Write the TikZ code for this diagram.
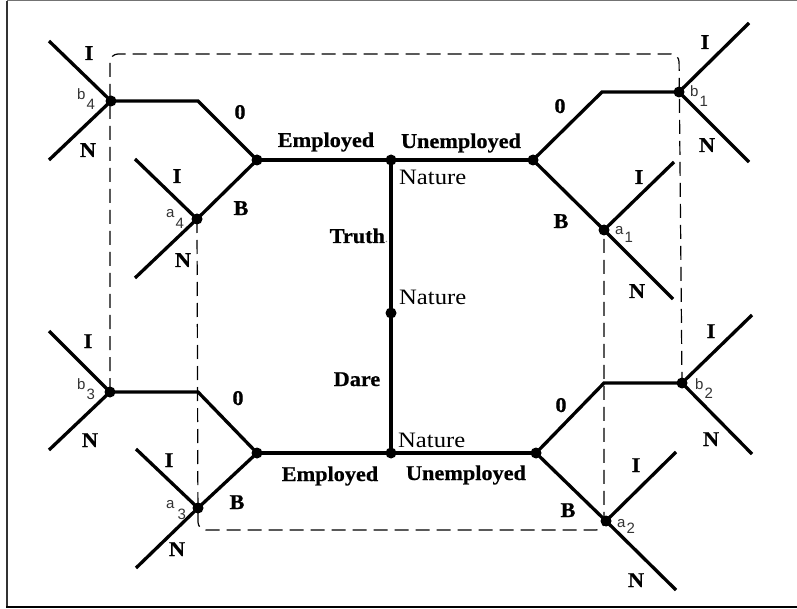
\documentclass[tikz,border=0pt]{standalone}
\usepackage{fontspec}
\setmainfont{Liberation Serif}
\newfontfamily\labfont[FakeStretch=1.06,FakeBold=0.6]{Liberation Serif Bold}
\newfontfamily\natfont[FakeStretch=1.12]{Liberation Serif}
\newfontfamily\subfont{Liberation Sans}
\newcommand{\idx}[3][10pt]{#2\kern1pt\raisebox{-#1}{#3}}
\begin{document}
\begin{tikzpicture}[x=1pt,y=-1pt,
  branch/.style={line width=3.3pt},
  guide/.style={line width=1.2pt, dash pattern=on 14pt off 7pt, rounded corners=8pt},
  frameline/.style={line width=1.6pt},
  dot/.style={circle,fill,inner sep=0pt,minimum size=11pt},
  lab/.style={font=\fontsize{21}{21}\labfont, inner sep=0pt, anchor=base},
  nat/.style={font=\fontsize{22}{22}\natfont, inner sep=0pt, anchor=base west},
  sub/.style={font=\fontsize{15}{15}\subfont, text=black!80, inner sep=0pt, anchor=base west}
]
\useasboundingbox (0,0) rectangle (797,609);

% open frame: left and bottom rules, light top rule
\draw[black!80, frameline] (7,1) -- (7,607);
\draw[black, line width=2.4pt] (6,607) -- (797,607);
\draw[black!55, line width=1pt] (7,1) -- (797,1);

% decision nodes on the central trunk
\node[dot] (nt) at (391,160) {};
\node[dot] (nm) at (391,313) {};
\node[dot] (nb) at (391,453) {};

% employment nodes
\node[dot] (el) at (257,160) {};
\node[dot] (ur) at (533,160) {};
\node[dot] (ebl) at (257,453) {};
\node[dot] (ubr) at (536,453) {};

% information sets
\node[dot] (b4) at (111,101) {};
\node[dot] (a4) at (197,219) {};
\node[dot] (b1) at (679,92) {};
\node[dot] (a1) at (604,230) {};
\node[dot] (b3) at (110,392) {};
\node[dot] (a3) at (198,508) {};
\node[dot] (b2) at (682,383) {};
\node[dot] (a2) at (606,521) {};

% bends and free ends
\coordinate (k4) at (198,101);
\coordinate (k1) at (602,92);
\coordinate (k3) at (198,392);
\coordinate (k2) at (604,383);
\coordinate (b4i) at (49,41);   \coordinate (b4n) at (49,160);
\coordinate (a4i) at (135,159); \coordinate (a4n) at (135,278);
\coordinate (b1i) at (749,23);  \coordinate (b1n) at (749,162);
\coordinate (a1i) at (674,162); \coordinate (a1n) at (673,299);
\coordinate (b3i) at (49,331);  \coordinate (b3n) at (49,450);
\coordinate (a3i) at (136,449); \coordinate (a3n) at (136,568);
\coordinate (b2i) at (752,315); \coordinate (b2n) at (752,454);
\coordinate (a2i) at (676,452); \coordinate (a2n) at (676,590);

% dashed information sets
\draw[guide] (b3.center) -- (110,54) -- (679,54) -- (b2.center);
\draw[guide] (a4.center) -- (198,530) -- (604,530) -- (a1.center);

% tree branches
\draw[branch] (nt.center) -- (nb.center);
\draw[branch] (el.center) -- (ur.center);
\draw[branch] (ebl.center) -- (ubr.center);
\draw[branch] (el.center) -- (k4) -- (b4.center);
\draw[branch] (el.center) -- (a4.center);
\draw[branch] (ur.center) -- (k1) -- (b1.center);
\draw[branch] (ur.center) -- (a1.center);
\draw[branch] (ebl.center) -- (k3) -- (b3.center);
\draw[branch] (ebl.center) -- (a3.center);
\draw[branch] (ubr.center) -- (k2) -- (b2.center);
\draw[branch] (ubr.center) -- (a2.center);
\draw[branch] (b4i) -- (b4.center) -- (b4n);
\draw[branch] (a4i) -- (a4.center) -- (a4n);
\draw[branch] (b1i) -- (b1.center) -- (b1n);
\draw[branch] (a1i) -- (a1.center) -- (a1n);
\draw[branch] (b3i) -- (b3.center) -- (b3n);
\draw[branch] (a3i) -- (a3.center) -- (a3n);
\draw[branch] (b2i) -- (b2.center) -- (b2n);
\draw[branch] (a2i) -- (a2.center) -- (a2n);

% trunk labels
\node[lab] (tEl) at (326,147) {Employed};
\node[lab] (tUr) at (461,148) {Unemployed};
\node[lab] (tEb) at (330,481) {Employed};
\node[lab] (tUb) at (466,480) {Unemployed};
\node[nat] (tN1) at (399,185) {Nature};
\node[nat] (tN2) at (399,305) {Nature};
\node[nat] (tN3) at (398,447) {Nature};
\node[lab] (tTr) at (359,243) {Truth{\natfont\color{black!50}\fontsize{12}{12}\selectfont.}};
\node[lab] (tDa) at (357,386) {Dare};

% branch labels, upper left
\node[lab] at (240,119) {0};
\node[lab] at (241,215) {B};
\node[lab] at (89,60) {I};
\node[lab] at (88,157) {N};
\node[lab] at (177,183) {I};
\node[lab] at (183,267) {N};
% upper right
\node[lab] at (560,113) {0};
\node[lab] at (561,228) {B};
\node[lab] at (705,49) {I};
\node[lab] at (707,152) {N};
\node[lab] at (639,184) {I};
\node[lab] at (637,298) {N};
% lower left
\node[lab] at (238,405) {0};
\node[lab] at (237,509) {B};
\node[lab] at (88,348) {I};
\node[lab] at (90,447) {N};
\node[lab] at (169,467) {I};
\node[lab] at (177,556) {N};
% lower right
\node[lab] at (561,412) {0};
\node[lab] at (568,517) {B};
\node[lab] at (711,338) {I};
\node[lab] at (711,446) {N};
\node[lab] at (636,472) {I};
\node[lab] at (636,587) {N};

% information set names
\node[sub] at (77,100) {\idx{b}{4}};
\node[sub] at (166,218) {\idx[11pt]{a}{4}};
\node[sub] at (690,97) {\idx{b}{1}};
\node[sub] at (615,235) {\idx[8pt]{a}{1}};
\node[sub] at (77,389) {\idx{b}{3}};
\node[sub] at (166,508) {\idx[11pt]{a}{\kern2pt 3}};
\node[sub] at (695,389) {\idx[9pt]{b}{2}};
\node[sub] at (617,527) {\idx[6pt]{a}{2}};
\end{tikzpicture}
\end{document}
